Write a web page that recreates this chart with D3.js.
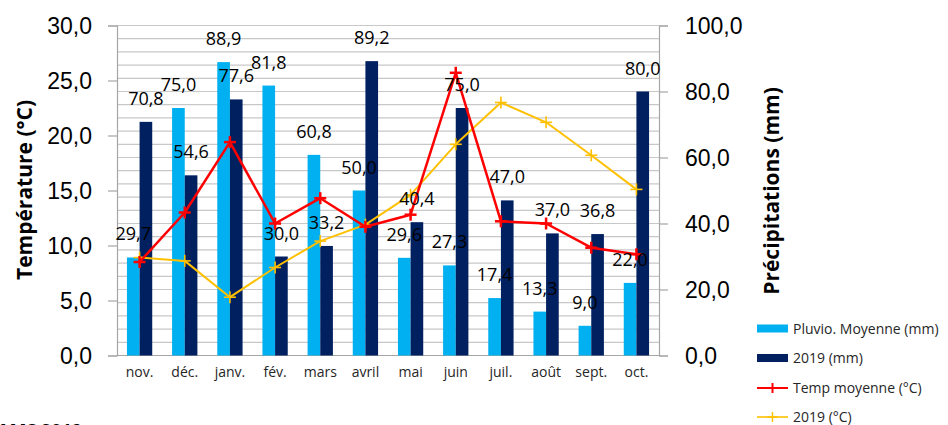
<!DOCTYPE html>
<html>
<head>
<meta charset="utf-8">
<script src="https://cdn.jsdelivr.net/npm/d3@7"></script>
<style>
  body { margin: 0; background: #fff; }
  svg { display: block; font-family: "Open Sans", sans-serif; }
</style>
</head>
<body>
<svg id="chart" width="948" height="425"></svg>
<script>
// data
var months = ["nov.", "déc.", "janv.", "fév.", "mars", "avril", "mai", "juin", "juil.", "août", "sept.", "oct."];
var pluvioMoy = [29.7, 75.0, 88.9, 81.8, 60.8, 50.0, 29.6, 27.3, 17.4, 13.3, 9.0, 22.0];
var pluvio2019 = [70.8, 54.6, 77.6, 30.0, 33.2, 89.2, 40.4, 75.0, 47.0, 37.0, 36.8, 80.0];
var tempMoy = [8.5, 13.0, 19.4, 12.0, 14.3, 11.7, 12.8, 25.7, 12.2, 12.0, 9.8, 9.2];
var temp2019 = [8.9, 8.6, 5.3, 8.0, 10.4, 11.9, 14.6, 19.2, 23.0, 21.2, 18.2, 15.1];
var tempTicks = [0, 5, 10, 15, 20, 25, 30];
var precTicks = [0, 20, 40, 60, 80, 100];
var legendItems = ["Pluvio. Moyenne (mm)", "2019 (mm)", "Temp moyenne (°C)", "2019 (°C)"];

var lightBlue = "#00B0F0", navy = "#002060", red = "#FF0000", gold = "#FFC000";
var fmt = function(v){ return v.toFixed(1).replace(".", ","); };

var plotLeft = 117, plotRight = 659, plotTop = 25.5, plotBottom = 355.5;
var svg = d3.select("#chart");

var x = d3.scaleBand().domain(months).range([plotLeft, plotRight]).paddingInner(0.44).paddingOuter(0.22);
var xs = d3.scaleBand().domain([0, 1]).range([0, x.bandwidth()]);
var yT = d3.scaleLinear().domain([0, 30]).range([plotBottom, plotTop]);
var yP = d3.scaleLinear().domain([0, 100]).range([plotBottom, plotTop]);
var cx = function(i){ return x(months[i]) + x.bandwidth() / 2; };

// gridlines (minor unit 4 mm on the right axis)
var gridVals = d3.range(0, 101, 4);
svg.append("g").selectAll("line").data(gridVals).join("line")
  .attr("x1", plotLeft).attr("x2", plotRight)
  .attr("y1", function(d){ return yP(d); }).attr("y2", function(d){ return yP(d); })
  .attr("stroke", "#c8c8c8").attr("stroke-width", 1.2);

// axes
var axisL = svg.append("g").attr("transform", "translate(" + plotLeft + ",0)")
  .call(d3.axisLeft(yT).tickValues(tempTicks).tickSize(9).tickPadding(16).tickFormat(fmt));
var axisR = svg.append("g").attr("transform", "translate(" + plotRight + ",0)")
  .call(d3.axisRight(yP).tickValues(precTicks).tickSize(9).tickPadding(17).tickFormat(fmt));
[axisL, axisR].forEach(function(a){
  a.select(".domain").attr("stroke", "#a6a6a6").attr("stroke-width", 1.2);
  a.selectAll(".tick line").attr("stroke", "#a6a6a6").attr("stroke-width", 1.2);
  a.selectAll(".tick text").attr("font-size", 23).attr("fill", "#000").attr("dy", "0.36em");
});
svg.append("line").attr("x1", plotLeft).attr("x2", plotRight)
  .attr("y1", plotBottom).attr("y2", plotBottom).attr("stroke", "#a6a6a6").attr("stroke-width", 1.2);

// x labels
svg.append("g").selectAll("text").data(months).join("text")
  .attr("x", function(d){ return x(d) + x.bandwidth() / 2; })
  .attr("y", 377)
  .attr("text-anchor", "middle")
  .attr("font-size", 14)
  .attr("fill", "#262626")
  .text(function(d){ return d; });

// bars
var series = [pluvioMoy, pluvio2019];
var colors = [lightBlue, navy];
series.forEach(function(s, k){
  svg.append("g").selectAll("rect").data(s).join("rect")
    .attr("x", function(d, i){ return x(months[i]) + xs(k); })
    .attr("width", xs.bandwidth())
    .attr("y", function(d){ return yP(d); })
    .attr("height", function(d){ return plotBottom - yP(d); })
    .attr("fill", colors[k]);
});

// lines
function plus(g, px, py, size, color, w){
  g.append("line").attr("x1", px - size).attr("x2", px + size).attr("y1", py).attr("y2", py)
    .attr("stroke", color).attr("stroke-width", w);
  g.append("line").attr("x1", px).attr("x2", px).attr("y1", py - size).attr("y2", py + size)
    .attr("stroke", color).attr("stroke-width", w);
}
function drawLine(s, color, w, mw){
  var line = d3.line().x(function(d, i){ return cx(i); }).y(function(d){ return yT(d); });
  svg.append("path").datum(s).attr("d", line)
    .attr("fill", "none").attr("stroke", color).attr("stroke-width", w).attr("stroke-linejoin", "round");
  var g = svg.append("g");
  s.forEach(function(d, i){ plus(g, cx(i), yT(d), 6, color, mw); });
}
drawLine(temp2019, gold, 2, 1.6);
drawLine(tempMoy, red, 2.5, 2.5);

// bar labels
series.forEach(function(s, k){
  svg.append("g").selectAll("text").data(s).join("text")
    .attr("x", function(d, i){ return x(months[i]) + xs(k) + xs.bandwidth() / 2; })
    .attr("y", function(d){ return yP(d) - 17; })
    .attr("text-anchor", "middle")
    .attr("font-size", 18)
    .attr("fill", "#000")
    .text(fmt);
});

// axis titles
svg.append("text")
  .attr("transform", "translate(32,190) rotate(-90)")
  .attr("text-anchor", "middle")
  .attr("font-size", 21).attr("font-weight", "bold").attr("fill", "#000")
  .text("Température (°C)");
svg.append("text")
  .attr("transform", "translate(779,191) rotate(-90)")
  .attr("text-anchor", "middle")
  .attr("font-size", 21).attr("font-weight", "bold").attr("fill", "#000")
  .text("Précipitations (mm)");

// legend
var legend = svg.append("g");
var legY = [328.5, 358, 388, 417];
legendItems.forEach(function(name, i){
  var ly = legY[i];
  if(i < 2){
    legend.append("rect").attr("x", 757).attr("y", ly - 4).attr("width", 31).attr("height", 8)
      .attr("fill", colors[i]);
  }else{
    var c = i == 2 ? red : gold;
    legend.append("line").attr("x1", 757).attr("x2", 788).attr("y1", ly).attr("y2", ly)
      .attr("stroke", c).attr("stroke-width", i == 2 ? 2 : 1.6);
    plus(legend, 772.5, ly, 5, c, i == 2 ? 2 : 1.4);
  }
  legend.append("text").attr("x", 793).attr("y", ly + 5)
    .attr("font-size", 14).attr("fill", "#262626").text(name);
});

// source text cut at the bottom edge
svg.append("text").attr("x", -3).attr("y", 437)
  .attr("font-size", 18).attr("font-weight", "bold").attr("fill", "#000")
  .text("AMS 2019");
</script>
</body>
</html>
